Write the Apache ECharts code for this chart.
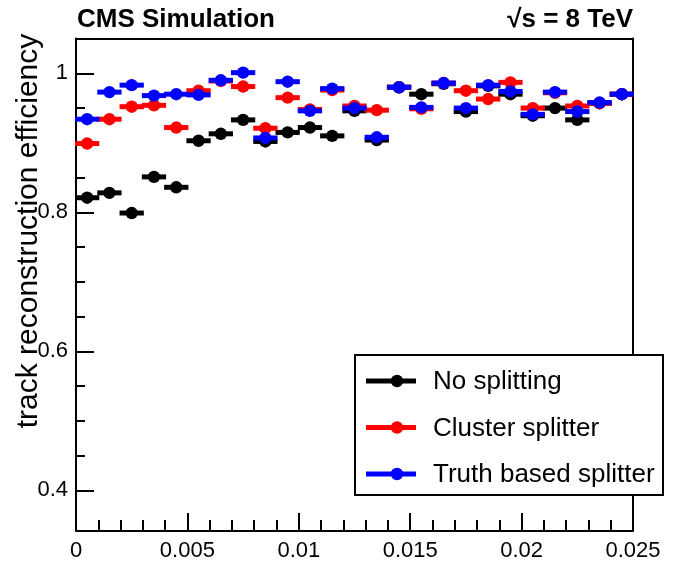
<!DOCTYPE html>
<html><head><meta charset="utf-8">
<script src="https://cdn.jsdelivr.net/npm/echarts@6/dist/echarts.min.js"></script>
<style>html,body{margin:0;padding:0;background:#fff}#c{width:675px;height:568px}</style>
</head><body><div id="c"></div>
<script>
const binCenters = [0.0005,0.0015,0.0025,0.0035,0.0045,0.0055,0.0065,0.0075,0.0085,0.0095,0.0105,0.0115,0.0125,0.0135,0.0145,0.0155,0.0165,0.0175,0.0185,0.0195,0.0205,0.0215,0.0225,0.0235,0.0245];
const binWidth = 0.001;
const noSplitting = [0.821,0.828,0.799,0.851,0.836,0.903,0.913,0.933,0.902,0.915,0.922,0.910,0.946,0.904,0.980,0.970,0.985,0.945,0.982,0.970,0.939,0.950,0.933,0.957,0.970];
const clusterSplitter = [0.899,0.934,0.952,0.954,0.922,0.975,0.989,0.981,0.921,0.965,0.948,0.976,0.953,0.947,0.980,0.949,0.986,0.975,0.963,0.987,0.950,0.972,0.953,0.957,0.970];
const truthSplitter = [0.934,0.973,0.983,0.968,0.970,0.969,0.990,1.001,0.907,0.988,0.946,0.978,0.950,0.908,0.980,0.951,0.986,0.950,0.983,0.974,0.941,0.973,0.945,0.958,0.970];
const yMajorTicks = [0.4,0.6,0.8,1.0];
const yMinorTicks = [0.4,0.45,0.5,0.55,0.6,0.65,0.7,0.75,0.8,0.85,0.9,0.95,1.0,1.05];
const seriesNames = ['No splitting','Cluster splitter','Truth based splitter'];
const seriesColors = ['#000000','#ff0000','#0000ff'];

const FONT = '"Liberation Sans", Arial, sans-serif';
const chart = echarts.init(document.getElementById('c'), null, {renderer:'canvas'});

function mk(name, vals, color){
  return {
    name, type:'custom', xAxisIndex:0, yAxisIndex:0, clip:false,
    data: binCenters.map((x,i)=>[x, vals[i]]),
    encode:{x:0,y:1},
    renderItem:(params, api)=>{
      const p = api.coord([api.value(0), api.value(1)]);
      const w = api.size([binWidth, 0])[0];
      return {type:'group', children:[
        {type:'rect', shape:{x:p[0]-w/2-1, y:p[1]-2.5, width:w+2, height:5}, style:{fill:color}},
        {type:'circle', shape:{cx:p[0], cy:p[1], r:6.2}, style:{fill:color}}
      ]};
    }
  };
}

const legendItems = [];
const ly0 = 381, ldy = 46.5;
seriesNames.forEach((n,i)=>{
  const y = ly0 + i*ldy;
  legendItems.push({type:'rect', shape:{x:366, y:y-2.5, width:50, height:5}, style:{fill:seriesColors[i]}, z:100});
  legendItems.push({type:'circle', shape:{cx:397, cy:y, r:6.2}, style:{fill:seriesColors[i]}, z:100});
  legendItems.push({type:'text', x:433, y:y+1, style:{text:n, font:'26px '+FONT, fill:'#000', verticalAlign:'middle', align:'left'}, z:100});
});

chart.setOption({
  animation:false,
  grid:{left:76, right:42, top:38.6, bottom:55},
  xAxis:[
    {type:'value', min:0, max:0.025, interval:0.005, position:'bottom', offset:18,
     axisLine:{show:true, lineStyle:{color:'#000', width:2}},
     axisTick:{show:true, inside:true, length:18, lineStyle:{color:'#000', width:2}},
     minorTick:{show:true, splitNumber:5, length:11, lineStyle:{color:'#000', width:2}},
     splitLine:{show:false}, minorSplitLine:{show:false},
     axisLabel:{fontSize:22, fontFamily:FONT, color:'#000', margin:9, formatter:v=>String(+v.toFixed(3))}},
    {type:'value', min:0, max:0.025, position:'top',
     axisLine:{show:true, onZero:false, lineStyle:{color:'#000', width:2}},
     axisTick:{show:false}, axisLabel:{show:false}, splitLine:{show:false}}
  ],
  yAxis:[
    {type:'value', min:0.3673, max:1.05, position:'left',
     axisLine:{show:true, onZero:false, lineStyle:{color:'#000', width:2}},
     axisTick:{show:true, inside:true, length:18, customValues:yMajorTicks, lineStyle:{color:'#000', width:2}},
     axisLabel:{show:true, customValues:yMajorTicks, fontSize:22, fontFamily:FONT, color:'#000', margin:8, formatter:v=>String(+v.toFixed(2))},
     splitLine:{show:false}},
    {type:'value', min:0.3673, max:1.05, position:'left',
     axisLine:{show:false},
     axisTick:{show:true, inside:true, length:9, customValues:yMinorTicks, lineStyle:{color:'#000', width:2}},
     axisLabel:{show:false}, splitLine:{show:false}},
    {type:'value', min:0.3673, max:1.05, position:'right',
     axisLine:{show:true, onZero:false, lineStyle:{color:'#000', width:2}},
     axisTick:{show:false}, axisLabel:{show:false}, splitLine:{show:false}}
  ],
  series:[
    mk(seriesNames[0], noSplitting, seriesColors[0]),
    mk(seriesNames[1], clusterSplitter, seriesColors[1]),
    mk(seriesNames[2], truthSplitter, seriesColors[2])
  ],
  graphic:[
    {type:'text', x:77, y:33, style:{text:'CMS Simulation', font:'bold 26px '+FONT, fill:'#000', verticalAlign:'bottom', align:'left'}},
    {type:'text', x:633, y:33, style:{text:'\u221As = 8 TeV', font:'bold 26px '+FONT, fill:'#000', verticalAlign:'bottom', align:'right'}},
    {type:'text', x:29, y:231, rotation:Math.PI/2, style:{text:'track reconstruction efficiency', font:'30px '+FONT, fill:'#000', verticalAlign:'middle', align:'center'}},
    {type:'rect', shape:{x:355, y:355, width:308, height:140}, style:{fill:'#fff', stroke:'#000', lineWidth:2}, z:99},
    ...legendItems
  ]
});
</script></body></html>
